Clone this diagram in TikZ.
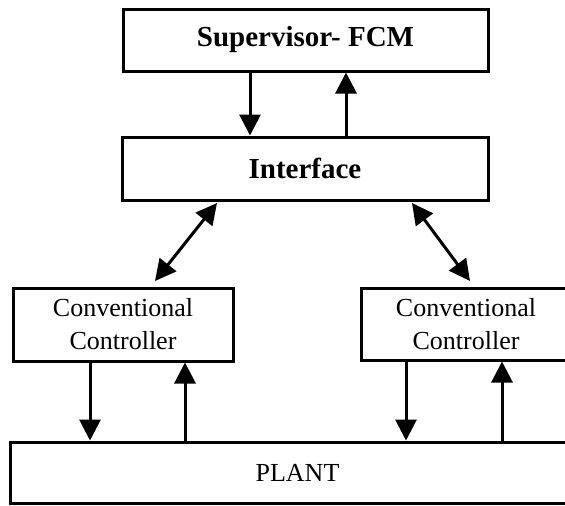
\documentclass[tikz,border=0pt]{standalone}
\usepackage{fontspec}
\setmainfont{Liberation Serif}
\usetikzlibrary{arrows.meta}
\tikzset{
  box/.style={draw, line width=3pt, rectangle, inner sep=0pt, align=center},
  bigtext/.style={font=\bfseries\fontsize{29}{34}\selectfont},
  smalltext/.style={font=\fontsize{26}{33}\selectfont},
  link/.style={line width=3pt, -{Triangle[width=21pt,length=21pt]}},
  dlink/.style={line width=3pt, {Triangle[width=21pt,length=21pt]}-{Triangle[width=21pt,length=21pt]}}
}
\begin{document}
\begin{tikzpicture}[x=1pt,y=-1pt]
  \useasboundingbox (0,0) rectangle (565,506);
  \clip (0,0) rectangle (565,506);

  % blocks
  \node[box, bigtext, minimum width=365pt, minimum height=62pt] (sup) at (305.5,40) {Supervisor- FCM};
  \node[box, bigtext, minimum width=366pt, minimum height=63pt] (ifc) at (305,168.5) {Interface};
  \node[box, smalltext, minimum width=220pt, minimum height=73pt] (ccl) at (123,324.5) {Conventional\\Controller};
  \node[box, smalltext, minimum width=210pt, minimum height=72pt] (ccr) at (466,324) {Conventional\\Controller};
  \node[box, smalltext, minimum width=575pt, minimum height=61pt] (plant) at (297.5,472.5) {PLANT};

  % supervisor <-> interface
  \draw[link] (sup.south -| 250,0) -- (ifc.north -| 250,0);
  \draw[link] (ifc.north -| 346,0) -- (sup.south -| 346,0);

  % interface <-> controllers
  \coordinate (il) at (217,203);
  \coordinate (cl) at (155,281);
  \coordinate (ir) at (412,203);
  \coordinate (cr) at (470,281);
  \draw[dlink] (il) -- (cl);
  \draw[dlink] (ir) -- (cr);

  % controllers <-> plant
  \draw[link] (ccl.south -| 90,0) -- (plant.north -| 90,0);
  \draw[link] (plant.north -| 185,0) -- (ccl.south -| 185,0);
  \draw[link] (ccr.south -| 406,0) -- (plant.north -| 406,0);
  \draw[link] (plant.north -| 502,0) -- (ccr.south -| 502,0);
\end{tikzpicture}
\end{document}
